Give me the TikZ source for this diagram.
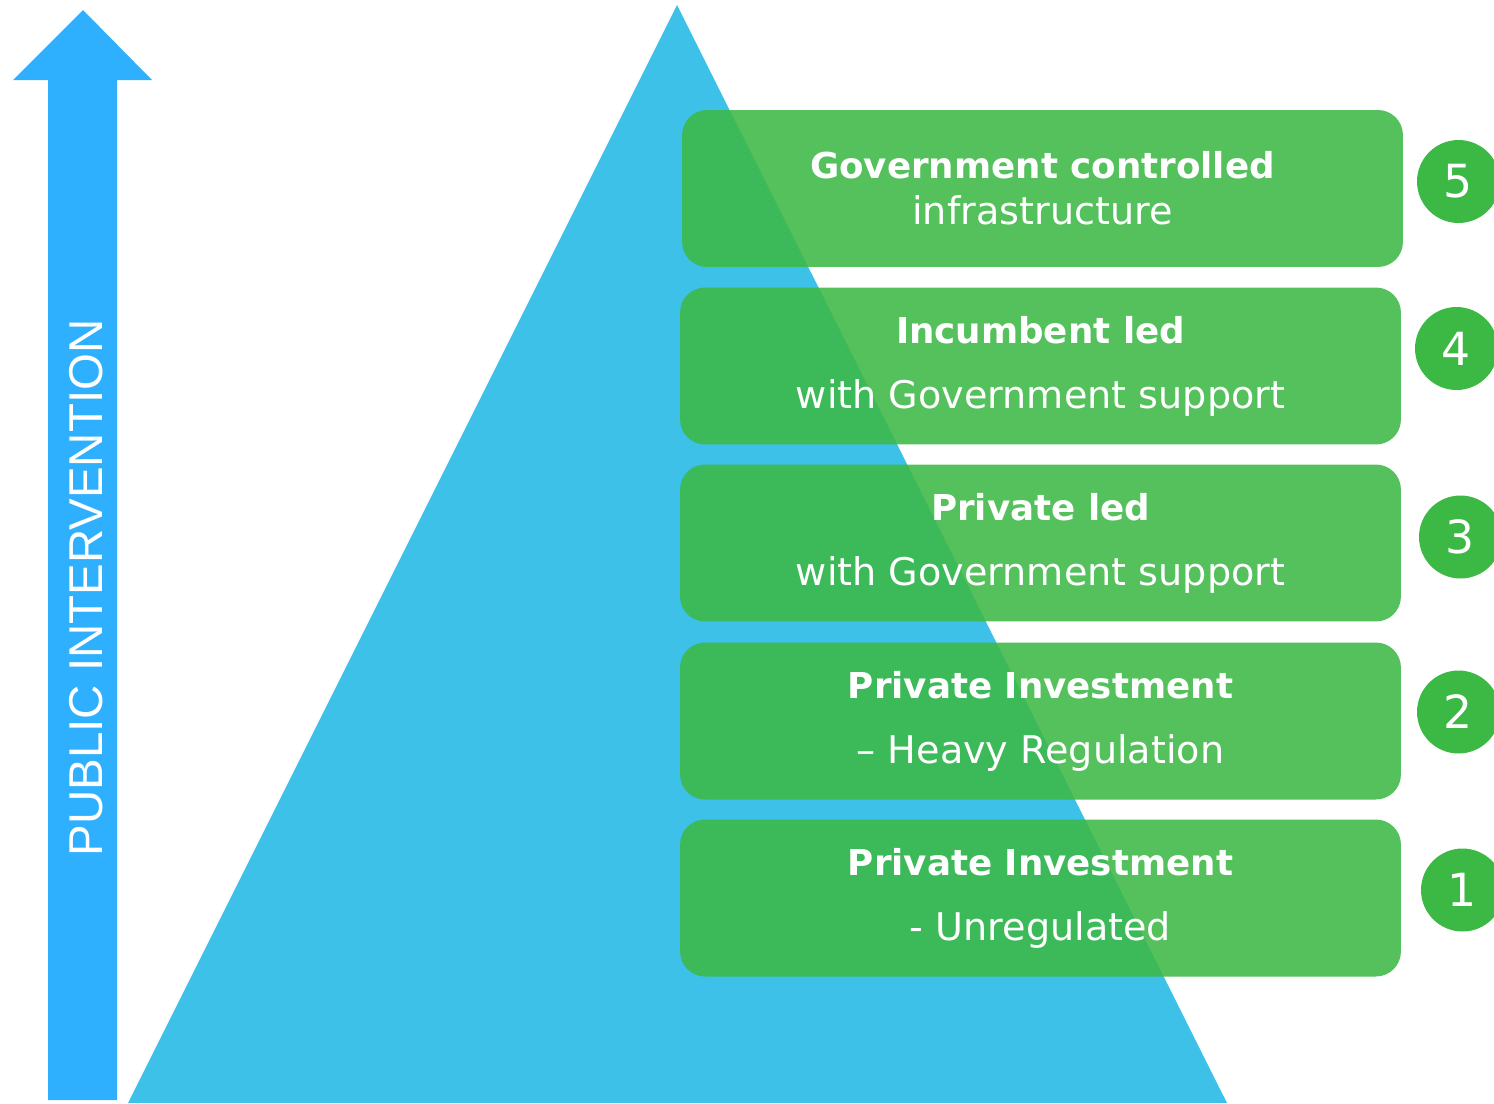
\documentclass[tikz,border=0pt]{standalone}
\usepackage{fontspec}
\setmainfont{DejaVu Sans}
\newfontfamily\arialfont{Liberation Sans}
\usepackage{tikz}
\definecolor{arrowblue}{RGB}{46, 176, 255}
\definecolor{pyrblue}{RGB}{62, 193, 232}
\definecolor{tiergreen}{RGB}{60, 184, 70}
\definecolor{numgreen}{RGB}{60, 185, 68}
\newcommand{\tierhead}[1]{{\bfseries\fontsize{20.3}{37}\selectfont #1}}

\begin{document}
\begin{tikzpicture}[x = 0.02cm, y = -0.02cm,
			tier/.style = {rectangle, rounded corners = 0.5cm, fill = tiergreen, fill opacity = 0.88, text opacity = 1, text = white, minimum width = 14.42cm, minimum height = 3.14cm, align = center, font = \fontsize{21.7}{37}\selectfont},
			tiernum/.style = {circle, fill = numgreen, text = white, minimum size = 1.66cm, inner sep = 0pt, font = \fontsize{26}{30}\selectfont}]
			\useasboundingbox (0,0) rectangle (1494,1103);
			\clip (0,0) rectangle (1494,1103);
			\fill[arrowblue] (83,10) -- (152,80) -- (117,80) -- (117,1100) -- (48,1100) -- (48,80) -- (13,80) -- cycle;
			\node (label) at (86,588) [rotate = 90, text = white, font = \arialfont\fontsize{27}{30}\selectfont] {PUBLIC INTERVENTION};
			\fill[pyrblue] (677,5) -- (1227,1103) -- (128,1103) -- cycle;
			\node (t5) at (1042.5,188.5) [tier, font = \fontsize{21.7}{26}\selectfont] {\tierhead{Government controlled}\\infrastructure};
			\node (t4) at (1040.5,366) [tier] {\tierhead{Incumbent led}\\with Government support};
			\node (t3) at (1040.5,543) [tier] {\tierhead{Private led}\\with Government support};
			\node (t2) at (1040.5,721) [tier] {\tierhead{Private Investment}\\– Heavy Regulation};
			\node (t1) at (1040.5,898) [tier] {\tierhead{Private Investment}\\- Unregulated};
			\node (n5) at (1458.5,181.5) [tiernum] {5};
			\node (n4) at (1456.5,348.5) [tiernum] {4};
			\node (n3) at (1460.5,537) [tiernum] {3};
			\node (n2) at (1458.5,712) [tiernum] {2};
			\node (n1) at (1462.5,890) [tiernum] {1};
			\end{tikzpicture}
\end{document}
